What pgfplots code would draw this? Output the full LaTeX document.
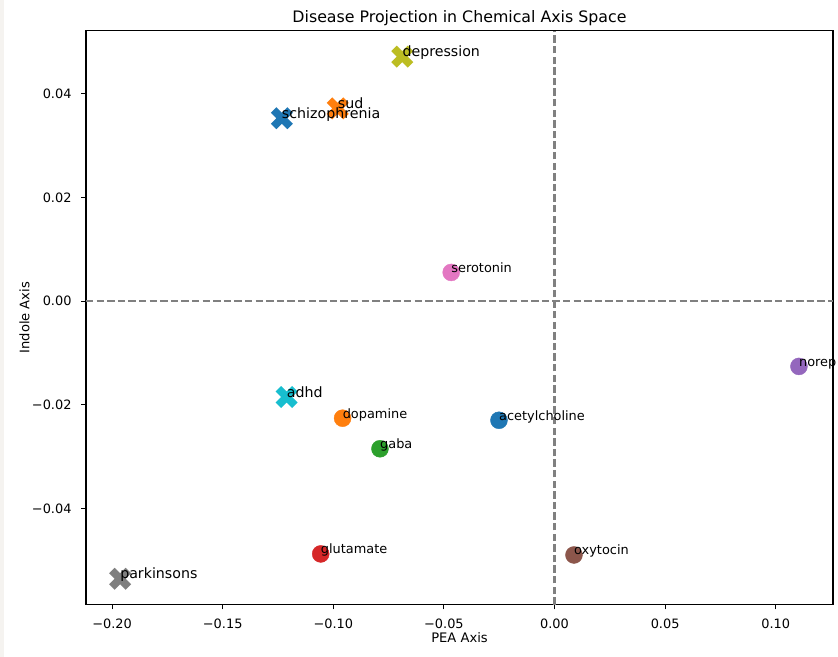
\documentclass[border=0pt]{standalone}
\usepackage{pgfplots}
\pgfplotsset{compat=1.18}
\usepackage{pgfplotstable}
\usepackage{fontspec}
\setmainfont{DejaVu Sans}

% tab10 palette
\definecolor{tabblue}{HTML}{1F77B4}
\definecolor{taborange}{HTML}{FF7F0E}
\definecolor{tabgreen}{HTML}{2CA02C}
\definecolor{tabred}{HTML}{D62728}
\definecolor{tabpurple}{HTML}{9467BD}
\definecolor{tabbrown}{HTML}{8C564B}
\definecolor{tabpink}{HTML}{E377C2}
\definecolor{tabgray}{HTML}{7F7F7F}
\definecolor{tabolive}{HTML}{BCBD22}
\definecolor{tabcyan}{HTML}{17BECF}
\definecolor{sidestrip}{RGB}{245,243,240}

% filled "X" marker
\pgfdeclareplotmark{Xfill}{%
  \pgfpathmoveto{\pgfqpoint{-.5\pgfplotmarksize}{-\pgfplotmarksize}}%
  \pgfpathlineto{\pgfqpoint{0pt}{-.5\pgfplotmarksize}}%
  \pgfpathlineto{\pgfqpoint{.5\pgfplotmarksize}{-\pgfplotmarksize}}%
  \pgfpathlineto{\pgfqpoint{\pgfplotmarksize}{-.5\pgfplotmarksize}}%
  \pgfpathlineto{\pgfqpoint{.5\pgfplotmarksize}{0pt}}%
  \pgfpathlineto{\pgfqpoint{\pgfplotmarksize}{.5\pgfplotmarksize}}%
  \pgfpathlineto{\pgfqpoint{.5\pgfplotmarksize}{\pgfplotmarksize}}%
  \pgfpathlineto{\pgfqpoint{0pt}{.5\pgfplotmarksize}}%
  \pgfpathlineto{\pgfqpoint{-.5\pgfplotmarksize}{\pgfplotmarksize}}%
  \pgfpathlineto{\pgfqpoint{-\pgfplotmarksize}{.5\pgfplotmarksize}}%
  \pgfpathlineto{\pgfqpoint{-.5\pgfplotmarksize}{0pt}}%
  \pgfpathlineto{\pgfqpoint{-\pgfplotmarksize}{-.5\pgfplotmarksize}}%
  \pgfpathclose
  \pgfusepathqfill
}

\newcommand{\fsTick}{\fontsize{12.9bp}{15bp}\selectfont}
\newcommand{\fsLabel}{\fontsize{13.1bp}{15bp}\selectfont}
\newcommand{\fsTitle}{\fontsize{15.8bp}{19bp}\selectfont}
\newcommand{\fsNeuro}{\fontsize{12.9bp}{15bp}\selectfont}
\newcommand{\fsDisease}{\fontsize{14.2bp}{16bp}\selectfont}

% neurotransmitters
\pgfplotstableread{
x y label
-0.0251 -0.0230 acetylcholine
-0.0958 -0.0226 dopamine
-0.0789 -0.0285 gaba
-0.1057 -0.0488 glutamate
0.1105 -0.0126 norep
0.0088 -0.0490 oxytocin
-0.0467 0.00554 serotonin
}\neuro

% disorders
\pgfplotstableread{
x y label
-0.1211 -0.01853 adhd
-0.0688 0.0472 depression
-0.1964 -0.0536 parkinsons
-0.1233 0.0353 schizophrenia
-0.0980 0.0372 sud
}\disease

\begin{document}
\begin{tikzpicture}
\useasboundingbox (0,0) rectangle (838bp,657bp);
\clip (0,0) rectangle (838bp,657bp);
\fill[white] (0,0) rectangle (838bp,657bp);
\fill[sidestrip] (0,0) rectangle (4bp,657bp);
\begin{axis}[
  scale only axis,
  width=747bp, height=574bp,
  at={(86bp,52.3bp)}, anchor=south west,
  xmin=-0.2118, xmax=0.1259,
  ymin=-0.0586, ymax=0.0522,
  clip=false,
  scaled x ticks=false, scaled y ticks=false,
  axis line style={line width=1.05bp, black},
  tick style={line width=1.05bp, black},
  major tick length=4.6bp,
  tick align=outside,
  tick pos=left,
  xtick={-0.2,-0.15,-0.1,-0.05,0,0.05,0.1},
  xticklabels={−0.20,−0.15,−0.10,−0.05,0.00,0.05,0.10},
  ytick={-0.04,-0.02,0,0.02,0.04},
  yticklabels={−0.04,−0.02,0.00,0.02,0.04},
  xticklabel style={font=\fsTick, anchor=north, inner sep=0pt, yshift=-9.9bp},
  yticklabel style={font=\fsTick, anchor=base east, inner sep=0pt, xshift=-9.7bp, yshift=-4.7bp},
  every axis title shift=0pt,
  title={Disease Projection in Chemical Axis Space},
  title style={font=\fsTitle, at={(axis description cs:0.5,1.01446)}, anchor=base, inner sep=0pt},
  xlabel={PEA Axis},
  xlabel style={font=\fsLabel, at={(axis description cs:0.5,-0.0667)}, anchor=base, inner sep=0pt},
  ylabel={Indole Axis},
  ylabel style={font=\fsLabel, at={(axis description cs:-0.0759,0.5)}, anchor=base, rotate=0, inner sep=0pt},
]
% reference lines through the origin
\addplot[gray, line width=2.1bp, dash pattern=on 7.4bp off 3.2bp] coordinates {(-0.2118,0) (0.1259,0)};
\addplot[gray, line width=2.1bp, dash pattern=on 7.4bp off 3.2bp] coordinates {(0,-0.0586) (0,0.0522)};

% neurotransmitters as dots
\addplot[only marks, mark=*, mark size=8.5bp, tabblue]   coordinates {(-0.0251,-0.0230)};
\addplot[only marks, mark=*, mark size=8.5bp, taborange] coordinates {(-0.0958,-0.0226)};
\addplot[only marks, mark=*, mark size=8.5bp, tabgreen]  coordinates {(-0.0789,-0.0285)};
\addplot[only marks, mark=*, mark size=8.5bp, tabred]    coordinates {(-0.1057,-0.0488)};
\addplot[only marks, mark=*, mark size=8.5bp, tabpurple] coordinates {(0.1105,-0.0126)};
\addplot[only marks, mark=*, mark size=8.5bp, tabbrown]  coordinates {(0.0088,-0.0490)};
\addplot[only marks, mark=*, mark size=8.5bp, tabpink]   coordinates {(-0.0467,0.00554)};

% disorders as filled crosses
\addplot[only marks, mark=Xfill, mark size=11bp, tabcyan]  coordinates {(-0.1211,-0.01853)};
\addplot[only marks, mark=Xfill, mark size=11bp, tabolive] coordinates {(-0.0688,0.0472)};
\addplot[only marks, mark=Xfill, mark size=11bp, tabgray]  coordinates {(-0.1964,-0.0536)};
\addplot[only marks, mark=Xfill, mark size=11bp, tabblue]  coordinates {(-0.1233,0.0353)};
\addplot[only marks, mark=Xfill, mark size=11bp, taborange] coordinates {(-0.0980,0.0372)};

% names
\addplot[draw=none, mark=none, nodes near coords, point meta=explicit symbolic,
  nodes near coords style={anchor=base west, inner sep=0pt, font=\fsNeuro, text=black}]
  table[x=x, y=y, meta=label] {\neuro};
\addplot[draw=none, mark=none, nodes near coords, point meta=explicit symbolic,
  nodes near coords style={anchor=base west, inner sep=0pt, font=\fsDisease, text=black}]
  table[x=x, y=y, meta=label] {\disease};
\end{axis}
\end{tikzpicture}
\end{document}
